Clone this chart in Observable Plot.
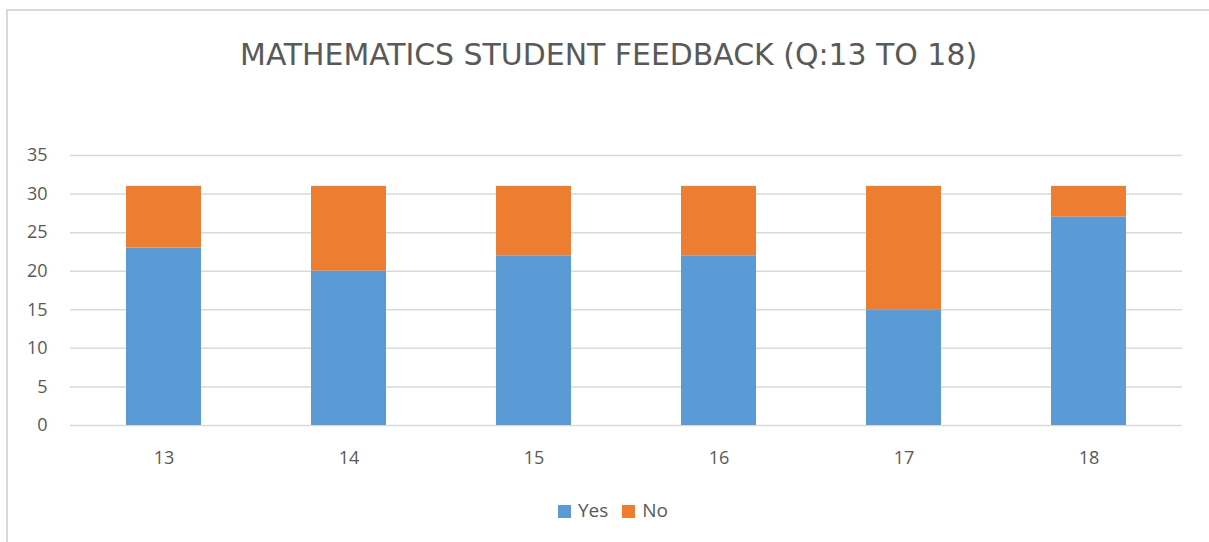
<!DOCTYPE html>
<html>
<head>
<meta charset="utf-8">
<script src="https://cdn.jsdelivr.net/npm/d3@7"></script>
<script src="https://cdn.jsdelivr.net/npm/@observablehq/plot@0.6"></script>
<style>
  html, body { margin: 0; padding: 0; background: #fff; }
  #wrap { position: relative; width: 1209px; height: 542px; overflow: hidden; font-family: "Open Sans", sans-serif; }
  #frame { position: absolute; left: 6px; top: 9px; width: 1240px; height: 600px; border: 2px solid #d9d9d9; box-sizing: border-box; }
  #title { position: absolute; left: 0; width: 1217px; top: 36px; text-align: center; white-space: nowrap; }
  #title span { display: inline-block; font-family: "DejaVu Sans Condensed", "DejaVu Sans", sans-serif; font-stretch: condensed; font-size: 31px; color: #595959; font-weight: 400; transform-origin: 50% 50%; }
  #chart { position: absolute; left: 0; top: 0; }
  #legend { position: absolute; left: 0; width: 1226px; top: 497px; text-align: center; font-size: 19px; color: #595959; white-space: nowrap; }
  #legend span.sw { display: inline-block; width: 13px; height: 13px; vertical-align: -1px; margin-right: 7px; }
  #legend span.item { margin: 0 7px; }
</style>
</head>
<body>
<div id="wrap">
  <div id="frame"></div>
  <div id="chart"></div>
  <div id="title"><span id="titleText">MATHEMATICS STUDENT FEEDBACK (Q:13 TO 18)</span></div>
  <div id="legend"></div>
</div>
<script>
const questions = ["13", "14", "15", "16", "17", "18"];
const yesValues = [23, 20, 22, 22, 15, 27];
const noValues = [8, 11, 9, 9, 16, 4];
const seriesNames = ["Yes", "No"];
const seriesColors = ["#5B9BD5", "#ED7D31"];
const yTicks = [0, 5, 10, 15, 20, 25, 30, 35];

const data = [];
questions.forEach((q, i) => {
  data.push({q, series: "Yes", value: yesValues[i]});
  data.push({q, series: "No", value: noValues[i]});
});

const chart = Plot.plot({
  width: 1209,
  height: 542,
  marginLeft: 70,
  marginRight: 27,
  marginTop: 155,
  marginBottom: 117,
  style: {fontFamily: "Open Sans, sans-serif", fontSize: "18px", color: "#595959", background: "transparent"},
  x: {domain: questions, paddingInner: 0.595, paddingOuter: 0.2975, label: null},
  y: {domain: [0, 35], ticks: yTicks, label: null},
  color: {domain: seriesNames, range: seriesColors},
  marks: [
    Plot.ruleY(yTicks, {stroke: "#d9d9d9", strokeWidth: 1.5}),
    Plot.barY(data, Plot.stackY({x: "q", y: "value", fill: "series", order: seriesNames})),
    Plot.axisY({ticks: yTicks, tickSize: 0, tickPadding: 23, fontSize: 18, fill: "#595959", label: null}),
    Plot.axisX({tickSize: 0, tickPadding: 26, fontSize: 18, fill: "#595959", label: null})
  ]
});
document.getElementById("chart").appendChild(chart);

// fit title width to the reference span
const t = document.getElementById("titleText");
const w = t.getBoundingClientRect().width;
if (w > 0) t.style.transform = `scaleX(${737 / w})`;

const legend = document.getElementById("legend");
seriesNames.forEach((name, i) => {
  const item = document.createElement("span");
  item.className = "item";
  const sw = document.createElement("span");
  sw.className = "sw";
  sw.style.background = seriesColors[i];
  item.appendChild(sw);
  item.appendChild(document.createTextNode(name));
  legend.appendChild(item);
});
</script>
</body>
</html>
